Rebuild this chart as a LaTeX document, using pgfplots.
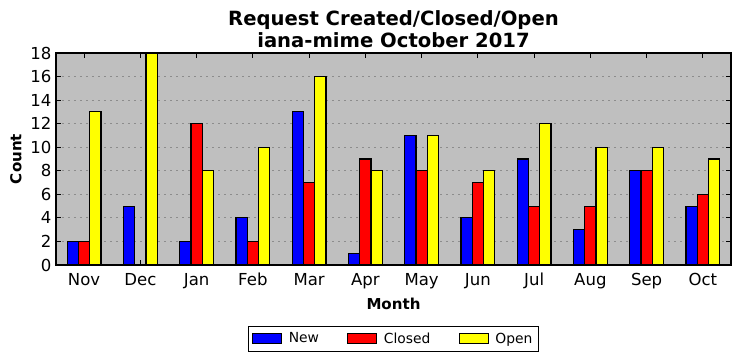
\documentclass[border=0pt]{standalone}
\usepackage{pgfplots}
\pgfplotsset{compat=1.18}
\usepackage{fontspec}
\setmainfont{DejaVu Sans}
\definecolor{bgray}{RGB}{191,191,191}
\definecolor{ggray}{RGB}{140,140,140}
\definecolor{mblue}{RGB}{0,0,255}
\definecolor{mred}{RGB}{255,0,0}
\definecolor{myellow}{RGB}{255,255,0}
\begin{document}
\begin{tikzpicture}
\useasboundingbox (0,0) rectangle (555pt,270.75pt);
\begin{axis}[
  at={(42pt,72pt)}, anchor=south west,
  scale only axis, width=506.25pt, height=159pt,
  ybar, bar width=0.2,
  xmin=-0.5, xmax=11.5, ymin=0, ymax=18,
  xtick={0,...,11},
  xticklabels={Nov,Dec,Jan,Feb,Mar,Apr,May,Jun,Jul,Aug,Sep,Oct},
  ytick={0,2,...,18},
  tick align=inside, major tick length=3.5pt,
  tick style={black, line width=0.6pt},
  axis line style={line width=0.8pt},
  axis background/.style={fill=bgray},
  ymajorgrids, grid style={ggray, dash pattern=on 1.5pt off 3pt, line width=0.6pt},
  /pgf/number format/assume math mode=true,
  ticklabel style={font=\fontsize{12.4}{14}\selectfont},
  xticklabel style={anchor=base, yshift=-15pt},
  title={Request Created/Closed/Open\\iana-mime October 2017},
  title style={font=\bfseries\fontsize{14.7}{17}\selectfont, align=center, at={(axis description cs:0.5,1)}, anchor=south, inner sep=0pt, yshift=-2.5pt},
  xlabel={Month},
  xlabel style={font=\bfseries\fontsize{11.3}{13}\selectfont, at={(axis description cs:0.5,0)}, anchor=center, yshift=-29pt},
  ylabel={Count},
  ylabel style={font=\bfseries\fontsize{11.3}{13}\selectfont, at={(axis description cs:-0.0593,0.5)}, anchor=center},
  legend columns=3,
  legend style={at={(axis description cs:0.5,-0.288)}, anchor=north, draw=black, line width=0.8pt, font=\fontsize{10.4}{12}\selectfont, inner sep=2.5pt,
    /tikz/every even column/.append style={column sep=19pt}},
  legend image code/.code={\draw[#1, draw=black, line width=0.6pt] (0pt,-3.75pt) rectangle (22pt,3.75pt); \path (25pt,0pt);},
]
\addplot[fill=mblue, draw=black, line width=0.8pt, bar shift=-0.2] coordinates {(0,2) (1,5) (2,2) (3,4) (4,13) (5,1) (6,11) (7,4) (8,9) (9,3) (10,8) (11,5)};
\addplot[fill=mred, draw=black, line width=0.8pt, bar shift=0] coordinates {(0,2) (1,0) (2,12) (3,2) (4,7) (5,9) (6,8) (7,7) (8,5) (9,5) (10,8) (11,6)};
\addplot[fill=myellow, draw=black, line width=0.8pt, bar shift=0.2] coordinates {(0,13) (1,18) (2,8) (3,10) (4,16) (5,8) (6,11) (7,8) (8,12) (9,10) (10,10) (11,9)};
\legend{New,Closed,Open}
\end{axis}
\end{tikzpicture}
\end{document}
